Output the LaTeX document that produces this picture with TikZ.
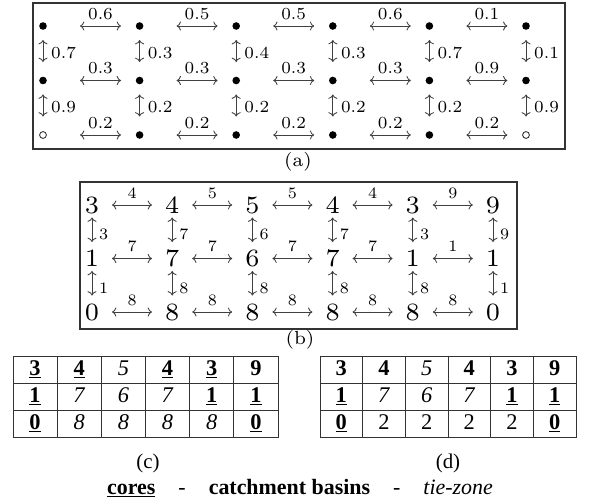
\documentclass[tikz,border=0pt]{standalone}
\usepackage{fontspec}
\usetikzlibrary{arrows.meta}
\newfontfamily\tms{Liberation Serif}
\newfontfamily\lmvii{lmroman7-regular.otf}
\newcommand\myub[1]{\underline{\textbf{#1}}}
\newcommand\mybf[1]{\textbf{#1}}
\newcommand\myit[1]{\textit{#1}}
\begin{document}
\begin{tikzpicture}[x=1bp,y=-1bp,
  frame/.style={draw=black!80,line width=1.1bp},
  gridln/.style={draw=black!80,line width=0.9bp},
  dot/.style={circle,fill=black,inner sep=0,minimum size=7.6bp},
  odot/.style={circle,draw=black,line width=0.7bp,inner sep=0,minimum size=6.8bp},
  arr/.style={{To[scale=1.25]}-{To[scale=1.25]},draw=black!75,line width=0.85bp},
  lbla/.style={inner sep=0,font=\lmvii\fontsize{17}{19}\selectfont},
  big/.style={inner sep=0,font=\lmvii\fontsize{25}{27}\selectfont},
  lblb/.style={inner sep=0,font=\lmvii\fontsize{16}{18}\selectfont},
  capn/.style={inner sep=0,font=\lmvii\fontsize{19}{21}\selectfont},
  tcap/.style={inner sep=0,font=\tms\fontsize{21}{23}\selectfont},
  legendtxt/.style={inner sep=0,font=\tms\fontsize{22}{24}\selectfont},
  cell/.style={inner sep=0,anchor=base,font=\tms\fontsize{22.5}{24}\selectfont},
]
\useasboundingbox (0,0) rectangle (591,504);

% ---------------- panel (a)
\draw[frame] (33,3) rectangle (565,149);
\foreach \r/\y in {0/26,1/80.5}
  \foreach \c in {0,...,5}
    \node[dot] (a\r\c) at ({43+96.6*\c},\y) {};
\node[odot] (a20) at (43,135) {};
\foreach \c in {1,...,4}
  \node[dot] (a2\c) at ({43+96.6*\c},135) {};
\node[odot] (a25) at ({43+96.6*5},135) {};

\foreach \r/\list in {0/{0.6,0.5,0.5,0.6,0.1},1/{0.3,0.3,0.3,0.3,0.9},2/{0.2,0.2,0.2,0.2,0.2}}
  \foreach \v [count=\i from 0] in \list {
    \pgfmathtruncatemacro\j{\i+1}
    \draw[arr,shorten <=37bp,shorten >=18.6bp] (a\r\i.center) -- (a\r\j.center);
    \node[lbla] (ha\r\i) at ({43+96.6*\i+57.5},{14+54.5*\r}) {\v};
  }
\foreach \r/\list in {0/{0.7,0.3,0.4,0.3,0.7,0.1},1/{0.9,0.2,0.2,0.2,0.2,0.9}}
  \foreach \v [count=\c from 0] in \list {
    \pgfmathtruncatemacro\s{\r+1}
    \draw[arr,shorten <=14bp,shorten >=18.5bp] (a\r\c.center) -- (a\s\c.center);
    \node[lbla,anchor=west] (va\r\c) at ({43+96.6*\c+8},{53+54.5*\r}) {\v};
  }
\node[capn] (capa) at (298,162) {(a)};

% ---------------- panel (b)
\draw[frame] (80,182) rectangle (517,329);
\foreach \r/\y/\list in {0/205/{3,4,5,4,3,9},1/258.5/{1,7,6,7,1,1},2/312/{0,8,8,8,8,0}}
  \foreach \v [count=\c from 0] in \list
    \node[big] (b\r\c) at ({92+80.2*\c},\y) {\v};
\foreach \r/\list in {0/{4,5,5,4,9},1/{7,7,7,7,1},2/{8,8,8,8,8}}
  \foreach \v [count=\i from 0] in \list {
    \pgfmathtruncatemacro\j{\i+1}
    \draw[arr,shorten <=20bp,shorten >=20.2bp] (b\r\i.center) -- (b\r\j.center);
    \node[lblb] (hb\r\i) at ({92+80.2*\i+40.1},{193+53.5*\r}) {\v};
  }
\foreach \r/\list in {0/{3,7,6,7,3,9},1/{1,8,8,8,8,1}}
  \foreach \v [count=\c from 0] in \list {
    \pgfmathtruncatemacro\s{\r+1}
    \draw[arr,shorten <=12.5bp,shorten >=16.5bp] (b\r\c.center) -- (b\s\c.center);
    \node[lblb,anchor=west] (vb\r\c) at ({92+80.2*\c+7},{234+54*\r}) {\v};
  }
\node[capn] (capb) at (300,340) {(b)};

% ---------------- table (c)
\draw[gridln] (13,356) rectangle (278,437);
\foreach \k in {1,...,5} \draw[gridln] ({13+44.17*\k},356) -- ({13+44.17*\k},437);
\foreach \k in {1,2} \draw[gridln] (13,{356+27*\k}) -- (278,{356+27*\k});
\foreach \r/\list in {0/{\myub{3},\myub{4},\myit{5},\myub{4},\myub{3},\mybf{9}},
                      1/{\myub{1},\myit{7},\myit{6},\myit{7},\myub{1},\myub{1}},
                      2/{\myub{0},\myit{8},\myit{8},\myit{8},\myit{8},\myub{0}}}
  \foreach \v [count=\c from 0] in \list
    \node[cell] (c\r\c) at ({13+44.17*\c+22.08},{369.5+27*\r+6}) {\v};
\node[tcap] (capc) at (148,463) {(c)};

% ---------------- table (d)
\draw[gridln] (320,356) rectangle (576,437);
\foreach \k in {1,...,5} \draw[gridln] ({320+42.67*\k},356) -- ({320+42.67*\k},437);
\foreach \k in {1,2} \draw[gridln] (320,{356+27*\k}) -- (576,{356+27*\k});
\foreach \r/\list in {0/{\mybf{3},\mybf{4},\myit{5},\mybf{4},\mybf{3},\mybf{9}},
                      1/{\myub{1},\myit{7},\myit{6},\myit{7},\myub{1},\myub{1}},
                      2/{\myub{0},2,2,2,2,\myub{0}}}
  \foreach \v [count=\c from 0] in \list
    \node[cell] (d\r\c) at ({320+42.67*\c+21.33},{369.5+27*\r+6}) {\v};
\node[tcap] (capd) at (448,463) {(d)};

% ---------------- legend
\node[legendtxt] (legend) at (300,488) {\myub{cores}\hspace{1.05em}-\hspace{1.05em}\mybf{catchment basins}\hspace{1.05em}-\hspace{1.05em}\myit{tie-zone}};
\end{tikzpicture}
\end{document}
